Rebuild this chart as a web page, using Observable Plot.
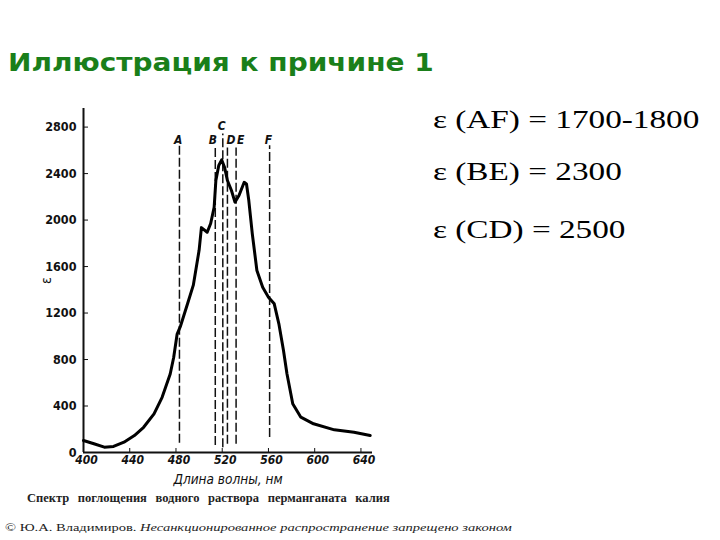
<!DOCTYPE html>
<html><head><meta charset="utf-8">
<script src="https://cdn.jsdelivr.net/npm/d3@7"></script>
<script src="https://cdn.jsdelivr.net/npm/@observablehq/plot@0.6"></script>
<style>
body{margin:0;background:#fff;}
#wrap{position:relative;width:720px;height:540px;overflow:hidden;background:#fff;}
#chart{position:absolute;left:0;top:0;}
.t{position:absolute;white-space:nowrap;transform-origin:0 50%;}
#title{left:8px;top:48px;font:bold 25px "DejaVu Sans",sans-serif;color:#1a7f1a;line-height:30px;transform:scaleX(1.12);}
.eq{left:433px;font:25px "Liberation Serif",serif;color:#000;line-height:30px;transform:scaleX(1.33);}
#cap{left:27px;top:490px;font:bold 12.5px "Liberation Serif",serif;color:#222;word-spacing:5.5px;line-height:16px;}
#copy{left:5px;top:519px;font:11px "Liberation Serif",serif;color:#222;line-height:16px;transform:scaleX(1.32);}
</style></head>
<body><div id="wrap"><div id="chart"></div>
<div class="t" id="title">Иллюстрация к причине 1</div>
<div class="t eq" style="top:105px">ε (AF) = 1700-1800</div>
<div class="t eq" style="top:157px">ε (BE) = 2300</div>
<div class="t eq" style="top:215px">ε (CD) = 2500</div>
<div class="t" id="cap">Спектр поглощения водного раствора перманганата калия</div>
<div class="t" id="copy">© Ю.А. Владимиров. <i>Несанкционированное распространение запрещено законом</i></div>
</div>
<script>
const wavelength = [400,409,418,426,435,444,452,461,468,475,478,481,484,490,495,500,502,507,510,513,514.5,517,519.5,522,524.5,528,531,534.5,539,541,543,546,550,555,560,565,569,573,576,581,588,599,617,634,648];
const eps = [103,75,46,52,89,146,217,332,475,676,818,1019,1090,1280,1440,1740,1935,1895,1970,2110,2340,2470,2518,2455,2340,2254,2154,2211,2325,2311,2168,1884,1566,1422,1336,1279,1107,877,677,419,304,247,195,175,146];
const markerNames = ["A","B","C","D","E","F"];
const markerWl = [483,514,520.5,524.5,532,561];
const markerTop = [2640,2620,2740,2620,2620,2640];
const markerBottom = [80,60,40,70,70,130];
const labelWl = [482,512,519.5,527.5,536,560];
const labelEps = [2690,2690,2810,2690,2690,2690];
const xTicks = [400,440,480,520,560,600,640];
const yTicks = [0,400,800,1200,1600,2000,2400,2800];

const curve = wavelength.map((w,i)=>({w, e: eps[i]}));
const markers = markerNames.map((n,i)=>({n, w: markerWl[i], top: markerTop[i], bot: markerBottom[i], lw: labelWl[i], le: labelEps[i]}));
const tickFont = '"Liberation Sans Narrow","DejaVu Sans Condensed",sans-serif';

const plot = Plot.plot({
  width: 720, height: 540,
  marginLeft: 83, marginRight: 348, marginTop: 108, marginBottom: 88,
  x: {domain: [400, 650]},
  y: {domain: [0, 2960]},
  style: {background: "transparent", fontFamily: tickFont, color: "#111"},
  marks: [
    Plot.ruleX([400], {strokeWidth: 2}),
    Plot.ruleY([0], {strokeWidth: 2}),
    Plot.axisY(yTicks, {tickSize: 0, tickPadding: 7, tickFormat: d => String(d), fontSize: 12.5, fontWeight: "bold", label: "ε", labelAnchor: "center", labelOffset: 42, labelArrow: "none"}),
    Plot.axisY(yTicks.slice(1), {tickSize: 5, dx: 5, text: null, label: null}),
    Plot.axisX(xTicks, {tickSize: 0, tickPadding: 3, tickFormat: d => String(d), fontSize: 12, fontWeight: "bold", fontStyle: "italic", dx: 3, label: "Длина волны, нм", labelAnchor: "center", labelOffset: 31, labelArrow: "none"}),
    Plot.axisX(xTicks.slice(1), {tickSize: 4, dy: -4, text: null, label: null}),
    Plot.ruleX(markers, {x: "w", y1: "bot", y2: "top", stroke: "#111", strokeWidth: 1.5, strokeDasharray: "9,3"}),
    Plot.line(curve, {x: "w", y: "e", stroke: "#000", strokeWidth: 3, strokeLinejoin: "round"}),
    Plot.text(markers, {x: "lw", y: "le", text: "n", fontSize: 12, fontStyle: "italic", fontWeight: "bold"})
  ]
});
document.getElementById("chart").appendChild(plot);
plot.querySelectorAll("g[aria-label='x-axis label'] text").forEach(t => { t.setAttribute("font-size", 13.5); t.setAttribute("font-weight", "normal"); t.setAttribute("font-style", "italic"); });
plot.querySelectorAll("g[aria-label='y-axis label'] text").forEach(t => { t.setAttribute("font-size", 14); t.setAttribute("font-weight", "normal"); });
</script>
</body></html>
